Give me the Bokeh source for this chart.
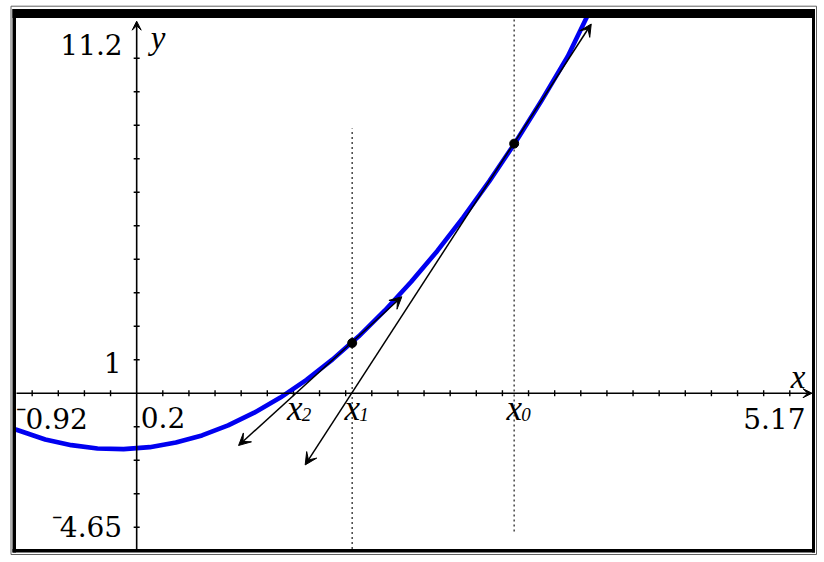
from bokeh.plotting import figure
from bokeh.models import Range1d, Arrow, VeeHead, ColumnDataSource
from bokeh.core.properties import value
from bokeh.embed import file_html
from bokeh.resources import INLINE

# ---- graph window (TI-Nspire style) ----
XMIN, XMAX = -0.92, 5.17
YMIN, YMAX = -4.65, 11.2
XSCL, YSCL = 0.2, 1

# ---- function curve ----
curve_x = [-0.92, -0.7, -0.5, -0.3, -0.1, 0.1, 0.3, 0.5, 0.7, 0.9, 1.1, 1.3,
           1.5, 1.7, 1.9, 2.1, 2.3, 2.5, 2.7, 2.9, 3.1, 3.3, 3.465]
curve_y = [-1.09, -1.38, -1.55, -1.65, -1.67, -1.61, -1.47, -1.26, -0.96, -0.58,
           -0.13, 0.40, 1.01, 1.70, 2.47, 3.32, 4.24, 5.25, 6.33, 7.49, 8.74,
           10.05, 11.38]

# ---- Newton iterates ----
iter_names = ["0", "1", "2"]
iter_x = [2.89, 1.65, 1.21]
point_x = [2.89, 1.65]
point_y = [7.45, 1.50]

# tangent segments (arrow ends)
tan_x0 = [1.29, 0.78]
tan_y0 = [-2.14, -1.56]
tan_x1 = [3.48, 2.03]
tan_y1 = [11.02, 2.88]

# dotted guide lines
guide_x = [2.89, 1.65]
guide_top = [11.2, 7.90]
guide_bottom = [-4.13, -4.65]

# ---- canvas geometry (style) ----
W, H = 820, 558
FL, FR, FT, FB = 16.0, 811.5, 17.5, 548.5   # plot-area edges in canvas px
sx = (FR - FL) / (XMAX - XMIN)
sy = (FB - FT) / (YMAX - YMIN)


def dx(px):
    return px / sx


def dy(py):
    return py / sy


def cx(px):
    return XMIN + (px - FL) / sx


def cy(py):
    return YMAX - (py - FT) / sy


p = figure(width=W, height=H,
           x_range=Range1d(cx(0), cx(W)), y_range=Range1d(cy(H), cy(0)),
           output_backend="svg", toolbar_location=None,
           x_axis_type=None, y_axis_type=None, min_border=0)
p.outline_line_color = None
p.background_fill_color = "white"
p.border_fill_color = "white"

SERIF = value("Liberation Serif")
NUMFONT = value("DejaVu Serif")
NUM = 28
BLUE = "#0000f0"
MINUS = "\u207b"

# dotted guides
p.segment(x0=guide_x, y0=guide_bottom, x1=guide_x, y1=guide_top,
          line_color="#505050", line_width=1.6, line_dash="2 3")

# ticks
xt = [round(k * XSCL, 6) for k in range(-4, 26) if k != 0]
yt = [k * YSCL for k in range(-4, 12) if k != 0 and k < YMAX - 0.3]
p.segment(x0=xt, y0=[-dy(3)] * len(xt), x1=xt, y1=[dy(3)] * len(xt),
          line_color="black", line_width=1.4)
p.segment(x0=[-dx(3)] * len(yt), y0=yt, x1=[dx(3)] * len(yt), y1=yt,
          line_color="black", line_width=1.4)

# axes with arrows
p.add_layout(Arrow(end=VeeHead(size=9, fill_color="black", line_color="black"),
                   x_start=XMIN, y_start=0, x_end=XMAX, y_end=0,
                   line_color="black", line_width=1.6))
p.add_layout(Arrow(end=VeeHead(size=9, fill_color="black", line_color="black"),
                   x_start=0, y_start=YMIN, x_end=0, y_end=YMAX - dy(3.2),
                   line_color="black", line_width=1.6))

# curve
p.line(curve_x, curve_y, line_color=BLUE, line_width=4.6, line_cap="round",
       line_join="round")

# tangent lines
tan_src = ColumnDataSource(dict(x0=tan_x0, y0=tan_y0, x1=tan_x1, y1=tan_y1))
p.add_layout(Arrow(start=VeeHead(size=12, fill_color="black", line_color="black"),
                   end=VeeHead(size=12, fill_color="black", line_color="black"),
                   x_start="x0", y_start="y0", x_end="x1", y_end="y1",
                   source=tan_src, line_color="black", line_width=1.5))

# iterate points
p.scatter(point_x, point_y, size=9, color="black")


def label(xs, ys, texts, size, align, italic=False, font=SERIF, lift=0.34):
    # the svg text sits lower than the alphabetic baseline; lift it by an em share
    p.text(x=xs, y=[v + dy(lift * size) for v in ys], text=texts,
           text_font=font, text_font_size=f"{size}px",
           text_font_style="italic" if italic else "normal",
           text_align=align, text_baseline="alphabetic", text_color="black")


def num(v):
    return f"{abs(v):g}"


# window labels (baselines given relative to the anchors)
label([-dx(14), -dx(15), -dx(14.5)],
      [YMAX - dy(35.8), YSCL - dy(12.5), YMIN + dy(12.8)],
      [num(YMAX), num(YSCL), num(YMIN)], NUM, "right", font=NUMFONT, lift=0.346)
label([XMIN + dx(9), dx(4)], [-dy(35.3), -dy(34.3)],
      [num(XMIN), num(XSCL)], NUM, "left", font=NUMFONT, lift=0.346)
label([XMAX - dx(6.5)], [-dy(35.3)], [num(XMAX)], NUM, "right", font=NUMFONT,
      lift=0.346)
# raised negative signs (TI style)
label([XMIN + dx(9.5), -dx(74.5)], [-dy(35.3), YMIN + dy(12.8)],
      [MINUS, MINUS], 31, "right")

# axis names
label([XMAX - dx(6.5)], [dy(4.7)], ["x"], 33, "right", italic=True)
label([dx(14)], [YMAX - dy(31.5)], ["y"], 33, "left", italic=True)

# iterate labels x0, x1, x2
label(iter_x, [-dy(27.3)] * 3, ["x"] * 3, 35, "center", italic=True)
label([v + dx(7) for v in iter_x], [-dy(27.3)] * 3, iter_names, 19, "left",
      italic=True)

# screen frame: thick inner band + thin outer line
p.quad(left=[cx(12), cx(12), cx(FR), cx(12)],
       right=[cx(814.5), cx(FL - 0.5), cx(814.5), cx(814.5)],
       top=[cy(8.5), cy(8.5), cy(8.5), cy(FB)],
       bottom=[cy(FT), cy(552), cy(552), cy(552)],
       fill_color="black", line_color=None)
p.segment(x0=[cx(10.5), cx(816), cx(10.5), cx(10.5)],
          y0=[cy(5.7), cy(5.7), cy(554), cy(5.7)],
          x1=[cx(10.5), cx(816), cx(816), cx(816)],
          y1=[cy(554), cy(554), cy(554), cy(5.7)],
          line_color="#606060", line_width=1)

open("out.html", "w").write(file_html(p, INLINE))
